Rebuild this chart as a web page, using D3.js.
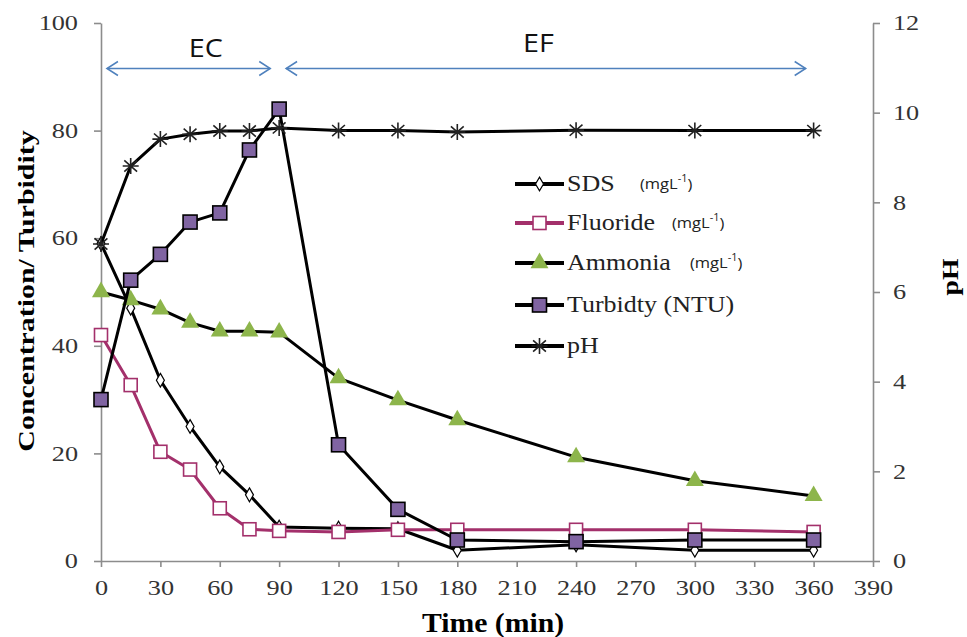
<!DOCTYPE html>
<html>
<head>
<meta charset="utf-8">
<script src="https://cdn.jsdelivr.net/npm/d3@7"></script>
<style>
body { margin: 0; background: #fff; }
</style>
</head>
<body>
<script>
// chart data
var times = [0, 15, 30, 45, 60, 75, 90, 120, 150, 180, 240, 300, 360];
var sds = [59, 47, 33.6, 25, 17.5, 12.3, 6.3, 6.1, 6, 2, 3, 2, 2];
var fluoride = [42, 32.7, 20.3, 17, 9.8, 5.9, 5.6, 5.4, 5.8, 5.8, 5.8, 5.8, 5.4];
var ammonia = [50, 48.5, 46.8, 44.3, 42.7, 42.7, 42.5, 34, 29.9, 26.2, 19.3, 14.9, 12.1];
var turbidity = [30, 52.2, 57, 63, 64.7, 76.4, 84, 21.6, 9.6, 3.9, 3.6, 3.9, 3.9];
var ph = [7.07, 8.81, 9.41, 9.52, 9.59, 9.59, 9.66, 9.6, 9.6, 9.57, 9.61, 9.6, 9.6];
var xTicks = d3.range(0, 391, 30);
var yTicks = [0, 20, 40, 60, 80, 100];
var phTicks = [0, 2, 4, 6, 8, 10, 12];
var phases = [{name: "EC", x0: 3, x1: 85.5, tx: 53},
              {name: "EF", x0: 93.5, x1: 356, tx: 221}];

var W = 967, H = 637;
var svg = d3.select("body").append("svg")
    .attr("width", W)
    .attr("height", H);

var x = d3.scaleLinear().domain([0, 390]).range([101, 873]);
var y = d3.scaleLinear().domain([0, 100]).range([561, 23]);
var y2 = d3.scaleLinear().domain([0, 12]).range([561, 23]);

var serif = "Liberation Serif";
var sans = "Open Sans";

// the source picture is stretched sideways, so text gets widened around its anchor
function widen(sel, sx) {
  sel.each(function() {
    var t = d3.select(this);
    var ax = +t.attr("x") || 0, ay = +t.attr("y") || 0;
    t.attr("transform", "translate(" + ax + "," + ay + ") scale(" + sx + ",1) translate(" + (-ax) + "," + (-ay) + ")");
  });
}

// axes
function styleAxis(g) {
  g.selectAll("path, line").attr("stroke", "#8c8c8c").attr("stroke-width", 1.6);
  g.selectAll("text").attr("fill", "#333").style("font-family", serif).style("font-size", "21px")
      .call(widen, 1.25);
}
svg.append("g").attr("transform", "translate(0,561)")
    .call(d3.axisBottom(x).tickValues(xTicks).tickSize(6).tickSizeOuter(0).tickPadding(13))
    .call(styleAxis);
svg.append("g").attr("transform", "translate(101,0)")
    .call(d3.axisLeft(y).tickValues(yTicks).tickSize(7).tickSizeOuter(0).tickPadding(16))
    .call(styleAxis);
svg.append("g").attr("transform", "translate(873,0)")
    .call(d3.axisRight(y2).tickValues(phTicks).tickSize(7).tickSizeOuter(0).tickPadding(13))
    .call(styleAxis);

// axis titles
svg.append("text")
    .attr("transform", "translate(34,291) rotate(-90) scale(1.3,1)")
    .attr("text-anchor", "middle")
    .style("font-family", serif).attr("font-weight", "bold").attr("font-size", 23)
    .text("Concentration/ Turbidity");
svg.append("text")
    .attr("transform", "translate(958,277) rotate(-90) scale(1.2,1)")
    .attr("text-anchor", "middle")
    .style("font-family", serif).attr("font-weight", "bold").attr("font-size", 23)
    .text("pH");
svg.append("text")
    .attr("transform", "translate(493,632) scale(1.1,1)")
    .attr("text-anchor", "middle")
    .style("font-family", serif).attr("font-weight", "bold").attr("font-size", 27)
    .text("Time (min)");

// EC / EF arrows
var blue = "#4f81bd";
var arrowY = 68.5;
var ph_g = svg.append("g");
phases.forEach(function(p) {
  var a = x(p.x0), b = x(p.x1);
  ph_g.append("line").attr("x1", a).attr("y1", arrowY).attr("x2", b).attr("y2", arrowY)
      .attr("stroke", blue).attr("stroke-width", 1.4);
  ph_g.append("path").attr("d", "M" + (a + 11) + "," + (arrowY - 7) + "L" + a + "," + arrowY + "L" + (a + 11) + "," + (arrowY + 7))
      .attr("fill", "none").attr("stroke", blue).attr("stroke-width", 1.5);
  ph_g.append("path").attr("d", "M" + (b - 11) + "," + (arrowY - 7) + "L" + b + "," + arrowY + "L" + (b - 11) + "," + (arrowY + 7))
      .attr("fill", "none").attr("stroke", blue).attr("stroke-width", 1.5);
  ph_g.append("text").attr("x", x(p.tx)).attr("y", p.name === "EC" ? 57 : 52)
      .attr("text-anchor", "middle")
      .style("font-family", sans).attr("font-size", 25).attr("fill", "#111")
      .text(p.name)
      .call(widen, 1.15);
});

// series
var series = [
  {name: "SDS", unit: true, values: sds, scale: y, color: "#000", shape: "diamond"},
  {name: "Fluoride", unit: true, values: fluoride, scale: y, color: "#a3306b", shape: "openSquare"},
  {name: "Ammonia", unit: true, values: ammonia, scale: y, color: "#000", shape: "triangle"},
  {name: "Turbidty (NTU)", unit: false, values: turbidity, scale: y, color: "#000", shape: "square"},
  {name: "pH", unit: false, values: ph, scale: y2, color: "#000", shape: "star"}
];

function drawMarker(g, shape, cx, cy) {
  if (shape === "diamond") {
    g.append("path").attr("d", d3.symbol(d3.symbolDiamond, 55)())
        .attr("transform", "translate(" + cx + "," + cy + ")")
        .attr("fill", "#fff").attr("stroke", "#000").attr("stroke-width", 1.2);
  } else if (shape === "openSquare") {
    g.append("rect").attr("x", cx - 6.5).attr("y", cy - 6.5).attr("width", 13).attr("height", 13)
        .attr("fill", "#fff").attr("stroke", "#a3306b").attr("stroke-width", 1.6);
  } else if (shape === "triangle") {
    g.append("path").attr("d", d3.symbol(d3.symbolTriangle, 140)())
        .attr("transform", "translate(" + cx + "," + cy + ")")
        .attr("fill", "#8db54b");
  } else if (shape === "square") {
    g.append("rect").attr("x", cx - 7).attr("y", cy - 7).attr("width", 14).attr("height", 14)
        .attr("fill", "#8064a2").attr("stroke", "#000").attr("stroke-width", 1.6);
  } else if (shape === "star") {
    var r = 8;
    var d = "M" + (cx - r) + "," + cy + "L" + (cx + r) + "," + cy +
            "M" + cx + "," + (cy - r) + "L" + cx + "," + (cy + r) +
            "M" + (cx - r * 0.8) + "," + (cy - r * 0.7) + "L" + (cx + r * 0.8) + "," + (cy + r * 0.7) +
            "M" + (cx - r * 0.8) + "," + (cy + r * 0.7) + "L" + (cx + r * 0.8) + "," + (cy - r * 0.7);
    g.append("path").attr("d", d).attr("stroke", "#222").attr("stroke-width", 1.6).attr("fill", "none");
  }
}

series.forEach(function(s) {
  var g = svg.append("g");
  var line = d3.line()
      .x(function(d, i) { return x(times[i]); })
      .y(function(d) { return s.scale(d); });
  g.append("path").datum(s.values)
      .attr("d", line)
      .attr("fill", "none")
      .attr("stroke", s.color)
      .attr("stroke-width", 3)
      .attr("stroke-linejoin", "round");
  s.values.forEach(function(v, i) { drawMarker(g, s.shape, x(times[i]), s.scale(v)); });
});

// legend
var leg = svg.append("g");
var legY = [184, 223, 263, 305, 346];
var unitX = [640, 672, 690];
series.forEach(function(s, i) {
  var ly = legY[i];
  leg.append("line").attr("x1", 515).attr("x2", 564).attr("y1", ly).attr("y2", ly)
      .attr("stroke", s.color).attr("stroke-width", 4);
  drawMarker(leg, s.shape, 539.5, ly);
  leg.append("text").attr("x", 567).attr("y", ly + 7)
      .style("font-family", serif).attr("font-size", 23).attr("fill", "#222")
      .text(s.name)
      .call(widen, 1.13);
  if (s.unit) {
    var u = leg.append("text").attr("x", unitX[i]).attr("y", ly + 5)
        .style("font-family", sans).attr("font-size", 15).attr("fill", "#222");
    u.append("tspan").text("(mgL");
    u.append("tspan").attr("font-size", 10).attr("dy", -7).text("-1");
    u.append("tspan").attr("dy", 7).text(")");
    u.call(widen, 1.1);
  }
});
</script>
</body>
</html>
